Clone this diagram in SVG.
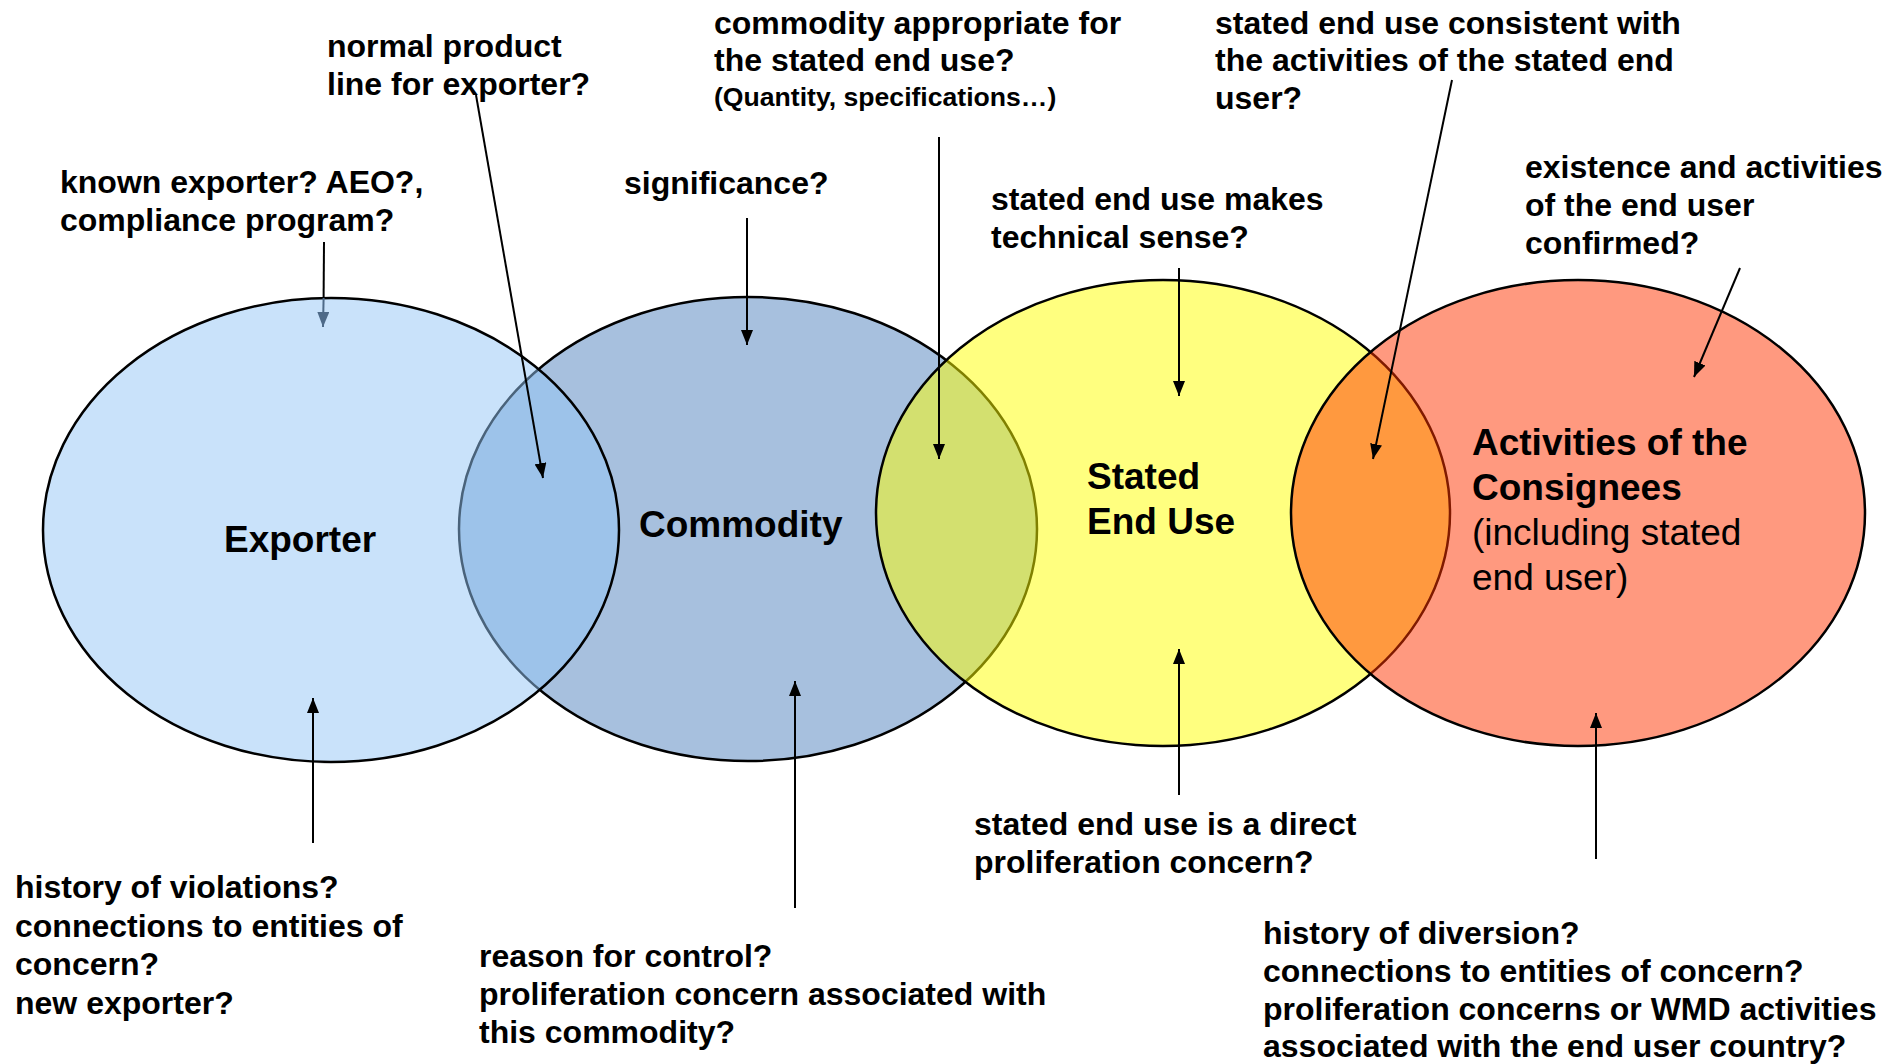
<svg xmlns="http://www.w3.org/2000/svg" width="1901" height="1064" viewBox="0 0 1901 1064">
<style>
.t{font-family:"Liberation Sans",Arial,sans-serif;font-weight:bold;font-size:32px;fill:#000}
.s{font-size:26.6px}
.l{font-family:"Liberation Sans",Arial,sans-serif;font-weight:bold;font-size:37px;fill:#000}
.r{font-weight:normal}
.e{stroke:#000;stroke-width:2.5;fill-opacity:0.5}
.c{stroke:#000;stroke-width:2;fill:none}
</style>
<defs>
<marker id="ah" markerUnits="userSpaceOnUse" markerWidth="16" markerHeight="12" refX="15" refY="6" orient="auto"><path d="M0,0 L15,6 L0,12 z" fill="#000"/></marker>
<marker id="ahg" markerUnits="userSpaceOnUse" markerWidth="16" markerHeight="12" refX="15" refY="6" orient="auto"><path d="M0,0 L15,6 L0,12 z" fill="#4E6A88"/></marker>
</defs>
<rect width="1901" height="1064" fill="#fff"/>
<g id="commodity">
<ellipse class="e" cx="748" cy="529" rx="289" ry="232" fill="#4F81BD"/>
<text class="l" x="639" y="537">Commodity</text>
</g>
<g id="exporter">
<ellipse class="e" cx="331" cy="530" rx="288" ry="232" fill="#93C5F5"/>
<text class="l" x="224" y="552">Exporter</text>
</g>
<g id="stated-end-use">
<ellipse class="e" cx="1163" cy="513" rx="287" ry="233" fill="#FFFF00"/>
<text class="l" x="1087" y="489">Stated</text>
<text class="l" x="1087" y="534">End Use</text>
</g>
<g id="consignees">
<ellipse class="e" cx="1578" cy="513" rx="287" ry="233" fill="#FF3300"/>
<text class="l" x="1472" y="455">Activities of the</text>
<text class="l" x="1472" y="500">Consignees</text>
<text class="l r" x="1472" y="545">(including stated</text>
<text class="l r" x="1472" y="590">end user)</text>
</g>
<g id="q-known-exporter">
<text class="t" x="60" y="193">known exporter? AEO?,</text>
<text class="t" x="60" y="231">compliance program?</text>
</g>
<g id="q-product-line">
<text class="t" x="327" y="57">normal product</text>
<text class="t" x="327" y="95">line for exporter?</text>
</g>
<g id="q-significance">
<text class="t" x="624" y="194">significance?</text>
</g>
<g id="q-appropriate">
<text class="t" x="714" y="34">commodity appropriate for</text>
<text class="t" x="714" y="71">the stated end use?</text>
<text class="t s" x="714" y="106">(Quantity, specifications…)</text>
</g>
<g id="q-consistent">
<text class="t" x="1215" y="34">stated end use consistent with</text>
<text class="t" x="1215" y="71">the activities of the stated end</text>
<text class="t" x="1215" y="109">user?</text>
</g>
<g id="q-technical">
<text class="t" x="991" y="210">stated end use makes</text>
<text class="t" x="991" y="248">technical sense?</text>
</g>
<g id="q-existence">
<text class="t" x="1525" y="178">existence and activities</text>
<text class="t" x="1525" y="216">of the end user</text>
<text class="t" x="1525" y="254">confirmed?</text>
</g>
<g id="q-history-violations">
<text class="t" x="15" y="898">history of violations?</text>
<text class="t" x="15" y="937">connections to entities of</text>
<text class="t" x="15" y="975">concern?</text>
<text class="t" x="15" y="1014">new exporter?</text>
</g>
<g id="q-reason-control">
<text class="t" x="479" y="967">reason for control?</text>
<text class="t" x="479" y="1005">proliferation concern associated with</text>
<text class="t" x="479" y="1043">this commodity?</text>
</g>
<g id="q-direct-concern">
<text class="t" x="974" y="835">stated end use is a direct</text>
<text class="t" x="974" y="873">proliferation concern?</text>
</g>
<g id="q-diversion">
<text class="t" x="1263" y="944">history of diversion?</text>
<text class="t" x="1263" y="982">connections to entities of concern?</text>
<text class="t" x="1263" y="1020">proliferation concerns or WMD activities</text>
<text class="t" x="1263" y="1057">associated with the end user country?</text>
</g>
<g id="connectors">
<path class="c" d="M324,242 L323.6,298"/>
<path class="c" d="M323.6,298 L323,327" style="stroke:#4E6A88" marker-end="url(#ahg)"/>
<path class="c" d="M476,95 L543,478" marker-end="url(#ah)"/>
<path class="c" d="M747,218 L747,345" marker-end="url(#ah)"/>
<path class="c" d="M939,137 L939,459" marker-end="url(#ah)"/>
<path class="c" d="M1452,80 L1373,459" marker-end="url(#ah)"/>
<path class="c" d="M1179,268 L1179,396" marker-end="url(#ah)"/>
<path class="c" d="M1740,268 L1694,377" marker-end="url(#ah)"/>
<path class="c" d="M313,843 L313,698" marker-end="url(#ah)"/>
<path class="c" d="M795,908 L795,681" marker-end="url(#ah)"/>
<path class="c" d="M1179,795 L1179,649" marker-end="url(#ah)"/>
<path class="c" d="M1596,859 L1596,713" marker-end="url(#ah)"/>
</g>
</svg>
